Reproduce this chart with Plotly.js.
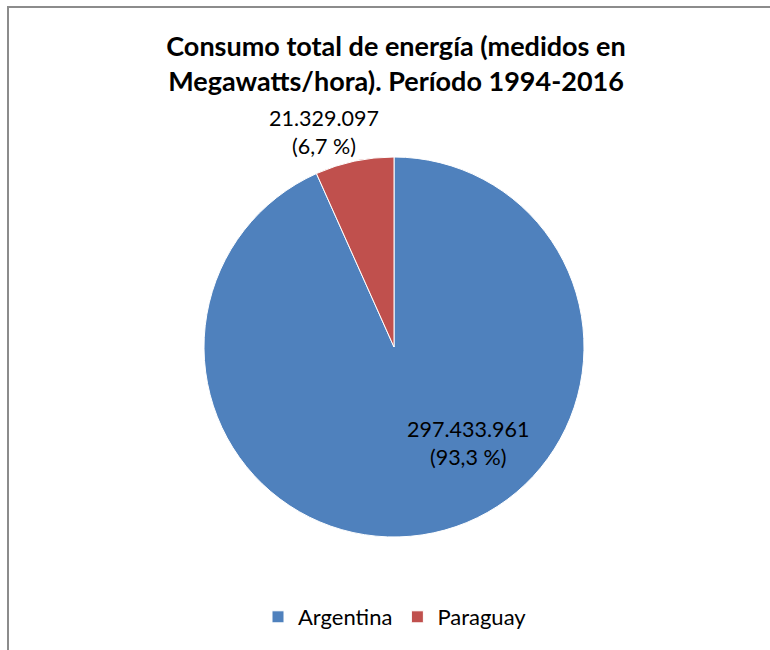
<!DOCTYPE html>
<html>
<head>
<meta charset="utf-8">
<script src="https://cdn.plot.ly/plotly-3.0.1.min.js"></script>
<style>
  html, body { margin: 0; padding: 0; background: #fff; }
  #wrap { position: relative; width: 770px; height: 650px; overflow: hidden; }
  #chart { position: absolute; left: 0; top: 0; width: 770px; height: 650px; }
  #frame { position: absolute; left: 7px; top: 6px; width: 800px; height: 700px;
           border-left: 2px solid #8c8c8c; border-top: 2px solid #8c8c8c; pointer-events: none; }
</style>
</head>
<body>
<div id="wrap">
  <div id="chart"></div>
  <div id="frame"></div>
</div>
<script>
const categories = ['Argentina', 'Paraguay'];
const values = [297433961, 21329097];
const colors = ['#4F81BD', '#C0504D'];
const titleText = 'Consumo total de energía (medidos en<br>Megawatts/hora). Período 1994-2016';

const FONT = 'Lato, "Open Sans", sans-serif';
const total = values.reduce((a, b) => a + b, 0);
function fmtInt(v) { return String(v).replace(/\B(?=(\d{3})+(?!\d))/g, '.'); }
function fmtPct(v) { return (v / total * 100).toFixed(1).replace('.', ',') + ' %'; }
const labelTexts = values.map(v => fmtInt(v) + '<br>(' + fmtPct(v) + ')');

// label anchor positions (paper coords)
const labelPos = [
  { x: 468 / 770, y: 1 - 443 / 650 },
  { x: 324 / 770, y: 1 - 132 / 650 }
];

const data = [{
  type: 'pie',
  labels: categories,
  values: values,
  sort: false,
  direction: 'clockwise',
  rotation: 0,
  marker: { colors: colors, line: { color: '#ffffff', width: 1 } },
  textinfo: 'none',
  hoverinfo: 'none',
  domain: { x: [(394 - 190) / 770, (394 + 190) / 770], y: [(650 - 347 - 190) / 650, (650 - 347 + 190) / 650] }
}];

const layout = {
  width: 770, height: 650,
  margin: { l: 0, r: 0, t: 0, b: 0 },
  paper_bgcolor: '#ffffff',
  font: { family: FONT, color: '#000000' },
  title: {
    text: titleText,
    font: { family: FONT, size: 27, color: '#000000', weight: 'bold' },
    x: 396 / 770, xanchor: 'center',
    y: 1 - 56 / 650, yanchor: 'middle'
  },
  showlegend: true,
  legend: {
    orientation: 'h',
    x: 395 / 770, xanchor: 'center',
    y: 1 - 617 / 650, yanchor: 'middle',
    font: { family: FONT, size: 22, color: '#000000' },
    itemwidth: 30
  },
  annotations: labelTexts.map((t, i) => ({
    text: t, showarrow: false, xref: 'paper', yref: 'paper',
    x: labelPos[i].x, y: labelPos[i].y, xanchor: 'center', yanchor: 'middle',
    align: 'center',
    font: { family: FONT, size: 21.5, color: '#000000' }
  }))
};

Plotly.newPlot('chart', data, layout, { displayModeBar: false, staticPlot: true });
</script>
</body>
</html>
